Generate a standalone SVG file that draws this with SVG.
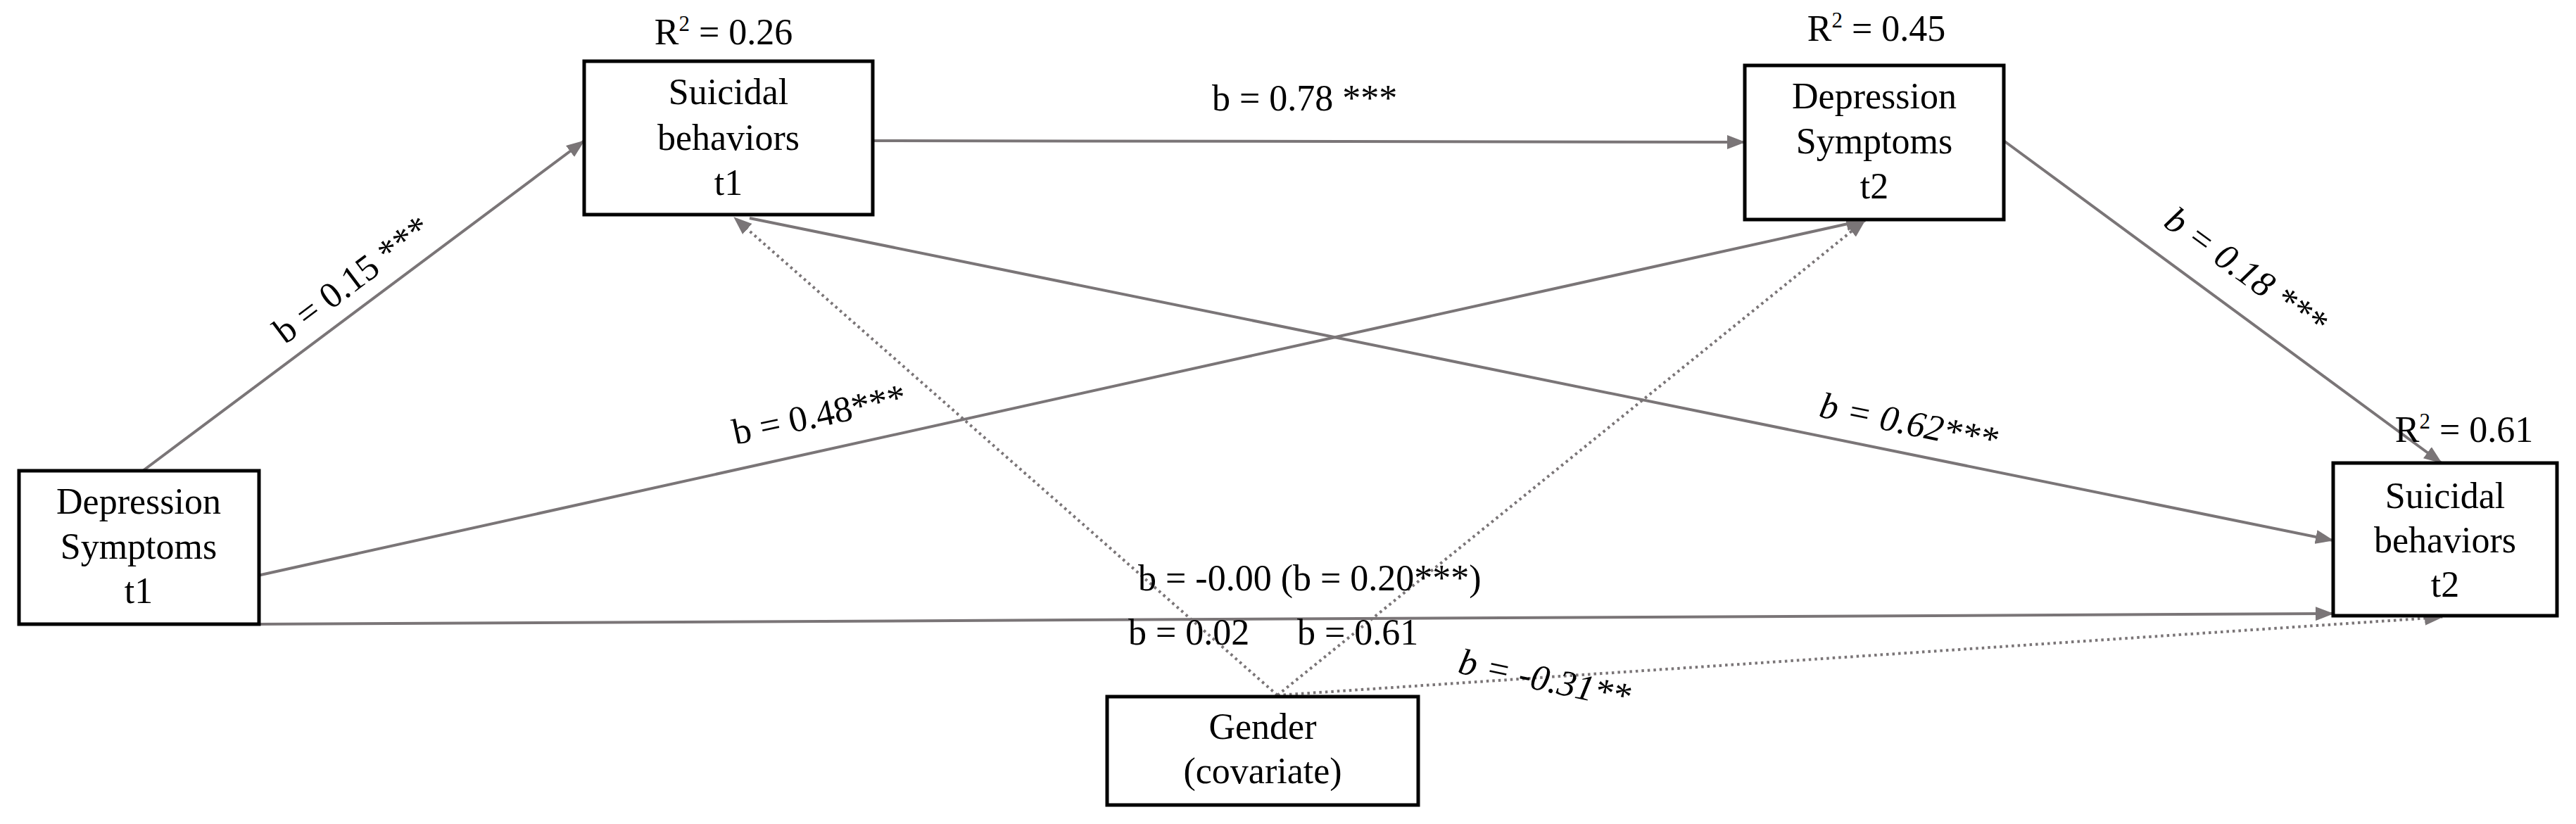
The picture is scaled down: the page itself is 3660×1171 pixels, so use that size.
<svg xmlns="http://www.w3.org/2000/svg" width="3660" height="1171" viewBox="0 0 3660 1171">
<style>
text{font-family:"Liberation Serif","Times New Roman",serif;font-size:52px;fill:#000}
.n text{text-anchor:middle}
.box{fill:#fff;stroke:#000;stroke-width:5}
.ln{fill:none;stroke:#7a7577;stroke-width:4}
.dt{fill:none;stroke:#7a7577;stroke-width:4;stroke-dasharray:3.5 5}
.it{font-style:italic}
.sup{font-size:31px}
</style>
<defs>
<marker id="ah" viewBox="0 0 26 20" refX="25" refY="10" markerWidth="26" markerHeight="20" markerUnits="userSpaceOnUse" orient="auto">
<path d="M0,0 L26,10 L0,20 z" fill="#7a7577"/>
</marker>
</defs>
<rect width="3660" height="1171" fill="#fff"/>
<g id="connectors">
<path id="c1" class="ln" d="M203,669 L830,200" marker-end="url(#ah)"/>
<path id="c2" class="ln" d="M1240,200 L2479,202" marker-end="url(#ah)"/>
<path id="c3" class="ln" d="M2847,200 L3469,658" marker-end="url(#ah)"/>
<path id="c4" class="ln" d="M366,818 L2648,313" marker-end="url(#ah)"/>
<path id="c5" class="ln" d="M1065,310 L3315,768" marker-end="url(#ah)"/>
<path id="c6" class="ln" d="M368,887 L3315,872" marker-end="url(#ah)"/>
<path id="d1" class="dt" d="M1815,988 L1043,309" marker-end="url(#ah)"/>
<path id="d2" class="dt" d="M1815,988 L2650,313" marker-end="url(#ah)"/>
<path id="d3" class="dt" d="M1815,988 L3470,877" marker-end="url(#ah)"/>
<text x="1722" y="157">b = 0.78 ***</text>
<text transform="translate(405,490) rotate(-37)">b = 0.15 ***</text>
<text transform="translate(1045,632) rotate(-12)">b = 0.48***</text>
<text class="it" transform="translate(2583,592) rotate(11.5)">b = 0.62***</text>
<text class="it" transform="translate(3072,320) rotate(36)">b = 0.18 ***</text>
<text class="it" transform="translate(2070,956) rotate(12)">b = -0.31**</text>
<text x="1617" y="839">b = -0.00 (b = 0.20***)</text>
<text x="1603" y="916">b = 0.02</text>
<text x="1843" y="916">b = 0.61</text>
</g>
<g id="dep_t1" class="n">
<rect class="box" x="27" y="669" width="341" height="218"/>
<text x="197" y="730">Depression</text>
<text x="197" y="794">Symptoms</text>
<text x="197" y="857">t1</text>
</g>
<g id="sui_t1" class="n">
<rect class="box" x="830" y="87" width="410" height="218"/>
<text x="1035" y="148">Suicidal</text>
<text x="1035" y="213">behaviors</text>
<text x="1035" y="277">t1</text>
<text x="1028" y="63">R<tspan class="sup" dy="-19">2</tspan><tspan dy="19"> = 0.26</tspan></text>
</g>
<g id="dep_t2" class="n">
<rect class="box" x="2479" y="93" width="368" height="219"/>
<text x="2663" y="154">Depression</text>
<text x="2663" y="218">Symptoms</text>
<text x="2663" y="282">t2</text>
<text x="2666" y="58">R<tspan class="sup" dy="-19">2</tspan><tspan dy="19"> = 0.45</tspan></text>
</g>
<g id="sui_t2" class="n">
<rect class="box" x="3315" y="658" width="318" height="217"/>
<text x="3474" y="722">Suicidal</text>
<text x="3474" y="785">behaviors</text>
<text x="3474" y="848">t2</text>
<text x="3501" y="628">R<tspan class="sup" dy="-19">2</tspan><tspan dy="19"> = 0.61</tspan></text>
</g>
<g id="gender" class="n">
<rect class="box" x="1573" y="990" width="442" height="154"/>
<text x="1794" y="1050">Gender</text>
<text x="1794" y="1113">(covariate)</text>
</g>
</svg>
